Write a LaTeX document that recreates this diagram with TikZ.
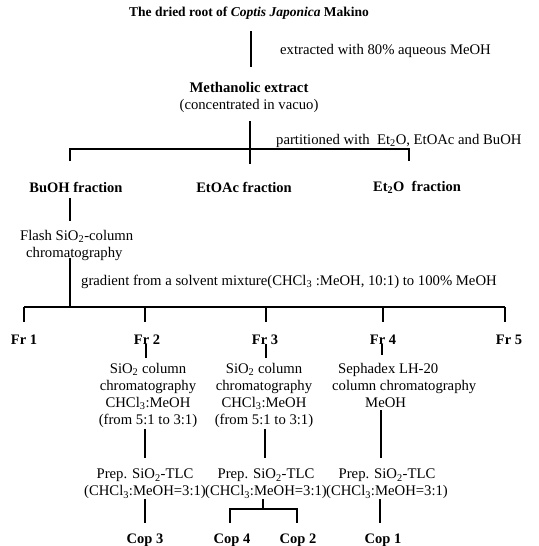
\documentclass[tikz,border=0pt]{standalone}
\usepackage{fontspec}
\setmainfont{Liberation Serif}
\begin{document}
\begin{tikzpicture}[x=1pt,y=-1pt,
  txt/.style={inner sep=0pt, align=center, font=\fontsize{14.7}{17}\selectfont},
  btxt/.style={inner sep=0pt, align=center, font=\fontsize{14.5}{17}\selectfont\bfseries},
  ln/.style={line width=1.2pt}]
\useasboundingbox[fill=white] (0,0) rectangle (538,546);
% texts
\node[btxt,font=\fontsize{13.5}{17}\selectfont\bfseries] (title) at (249,13) {The dried root of \textit{Coptis Japonica} Makino};
\node[txt,anchor=west] (extr) at (280,51) {extracted with 80\% aqueous MeOH};
\node[txt] (meth) at (249,97) {\textbf{Methanolic extract}\\(concentrated in vacuo)};
\node[txt,anchor=west] (part) at (276,141) {partitioned with\ \ Et\textsubscript{2}O, EtOAc and BuOH};
\node[btxt] (buoh) at (76,187) {BuOH fraction};
\node[btxt] (etoac) at (244,187) {EtOAc fraction};
\node[btxt] (et2o) at (417,187) {Et\textsubscript{2}O\ \ fraction};
\node[txt,align=left,anchor=north west] (flash) at (20,230) {Flash SiO\textsubscript{2}-column\\\hspace*{6pt}chromatography};
\node[txt,anchor=west] (grad) at (81,282) {gradient from a solvent mixture(CHCl\textsubscript{3} :MeOH, 10:1) to 100\% MeOH};
\node[btxt] (fr1) at (24,340) {Fr 1};
\node[btxt] (fr2) at (147,340) {Fr 2};
\node[btxt] (fr3) at (265,340) {Fr 3};
\node[btxt] (fr4) at (383,340) {Fr 4};
\node[btxt] (fr5) at (509,340) {Fr 5};
\node[txt,anchor=north] (ca) at (148,363) {SiO\textsubscript{2} column\\chromatography\\CHCl\textsubscript{3}:MeOH\\(from 5:1 to 3:1)};
\node[txt,anchor=north] (cb) at (264,363) {SiO\textsubscript{2} column\\chromatography\\CHCl\textsubscript{3}:MeOH\\(from 5:1 to 3:1)};
\node[txt,align=left,anchor=north west] (cc) at (332,363) {\hspace*{6pt}Sephadex LH-20\\column chromatography\\\hspace*{33pt}MeOH};
\node[txt,anchor=north] (ta) at (145,469) {Prep. SiO\textsubscript{2}-TLC\\(CHCl\textsubscript{3}:MeOH=3:1)};
\node[txt,anchor=north] (tb) at (266,469) {Prep. SiO\textsubscript{2}-TLC\\(CHCl\textsubscript{3}:MeOH=3:1)};
\node[txt,anchor=north] (tc) at (387,469) {Prep. SiO\textsubscript{2}-TLC\\(CHCl\textsubscript{3}:MeOH=3:1)};
\node[btxt] (cop3) at (145,540) {Cop 3};
\node[btxt] (cop4) at (232,540) {Cop 4};
\node[btxt] (cop2) at (298,540) {Cop 2};
\node[btxt] (cop1) at (383,540) {Cop 1};
% connector coordinates
\coordinate (a1) at (251,31); \coordinate (a2) at (251,67);
\coordinate (b1) at (250,121); \coordinate (b2) at (250,164);
\coordinate (bl) at (70,149); \coordinate (br) at (409,149);
\coordinate (bld) at (70,161); \coordinate (brd) at (409,161);
\coordinate (c1) at (70,198); \coordinate (c2) at (70,221);
\coordinate (d1) at (70,258); \coordinate (d2) at (70,307);
\coordinate (hl) at (24,307); \coordinate (hr) at (505,307);
\foreach \x/\n in {24/1,145/2,266/3,383/4,505/5}{
  \coordinate (t\n a) at (\x,307); \coordinate (t\n b) at (\x,322);}
\coordinate (e2a) at (146,344); \coordinate (e2b) at (146,358);
\coordinate (e3a) at (266,344); \coordinate (e3b) at (266,358);
\coordinate (e4a) at (382,344); \coordinate (e4b) at (382,355);
\coordinate (f2a) at (145,429); \coordinate (f2b) at (145,458);
\coordinate (f3a) at (265,429); \coordinate (f3b) at (265,458);
\coordinate (f4a) at (381,410); \coordinate (f4b) at (381,458);
\coordinate (g2a) at (145,499); \coordinate (g2b) at (145,523);
\coordinate (g3a) at (263,499); \coordinate (g3b) at (263,509);
\coordinate (g3l) at (230,509); \coordinate (g3r) at (297,509);
\coordinate (g3ld) at (230,523); \coordinate (g3rd) at (297,523);
\coordinate (g4a) at (380,499); \coordinate (g4b) at (380,523);
% connectors
\draw[ln] (a1) -- (a2);
\draw[ln] (b1) -- (b2);
\draw[ln] (bld) -- (bl) -- (br) -- (brd);
\draw[ln] (c1) -- (c2);
\draw[ln] (d1) -- (d2);
\draw[ln] (hl) -- (hr);
\foreach \n in {1,...,5}{\draw[ln] (t\n a) -- (t\n b);}
\draw[ln] (e2a) -- (e2b);
\draw[ln] (e3a) -- (e3b);
\draw[ln] (e4a) -- (e4b);
\draw[ln] (f2a) -- (f2b);
\draw[ln] (f3a) -- (f3b);
\draw[ln] (f4a) -- (f4b);
\draw[ln] (g2a) -- (g2b);
\draw[ln] (g3a) -- (g3b);
\draw[ln] (g3ld) -- (g3l) -- (g3r) -- (g3rd);
\draw[ln] (g4a) -- (g4b);
\end{tikzpicture}
\end{document}
